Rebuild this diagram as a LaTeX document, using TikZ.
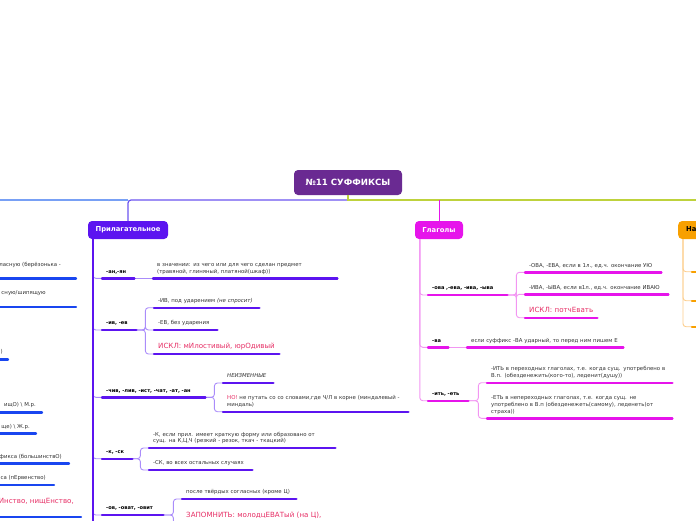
\documentclass[tikz,border=0pt]{standalone}
\usepackage{fontspec}
\setmainfont{DejaVu Sans}
\usepackage{xcolor}
\usetikzlibrary{positioning}
\definecolor{cRoot}{RGB}{106,42,146}
\definecolor{cV}{RGB}{92,20,240}
\definecolor{cVl}{RGB}{170,140,250}
\definecolor{cVt}{RGB}{108,84,240}
\definecolor{cM}{RGB}{230,20,235}
\definecolor{cMl}{RGB}{242,150,242}
\definecolor{cO}{RGB}{248,160,0}
\definecolor{cOl}{RGB}{252,205,140}
\definecolor{cB}{RGB}{25,70,240}
\definecolor{cBl}{RGB}{120,160,245}
\definecolor{cG}{RGB}{190,210,60}
\definecolor{cRed}{RGB}{230,45,100}
\definecolor{cText}{RGB}{51,51,51}

\begin{document}
\begin{tikzpicture}[x=1pt, y=-1pt, font=\fontsize{5.4}{6.7}\selectfont]

    \tikzstyle{title} = [rectangle, rounded corners=4pt, minimum height=18pt, inner xsep=6pt, text=white, font=\fontsize{6.8}{8}\selectfont\bfseries]
    \tikzstyle{txt} = [anchor=south west, align=left, inner xsep=4pt, inner ysep=3.5pt, text=cText, execute at end node={\rule[-1.5pt]{0pt}{1pt}}]
    \tikzstyle{hd} = [txt, text=black, font=\fontsize{5.1}{6.7}\selectfont\bfseries]
    \tikzstyle{rd} = [txt, text=cRed, font=\fontsize{7.1}{8.5}\selectfont, execute at end node={\rule[-2pt]{0pt}{1pt}}]
    \tikzstyle{btxt} = [anchor=base east, inner sep=0pt, text=cText]
    \tikzstyle{uline} = [line width=2.4pt, line cap=round]
    \tikzstyle{conn} = [line width=0.9pt, rounded corners=3pt]

    \useasboundingbox (0,0) rectangle (696,520);
    \clip (0,0) rectangle (696,520);

    % Root and branch boxes
    \node[title, fill=cRoot, minimum width=108pt, minimum height=25pt, font=\fontsize{8.6}{10}\selectfont\bfseries] (root) at (348,182.5) {№11 СУФФИКСЫ};
    \node[title, fill=cV, minimum width=80pt] (adj) at (128,230) {Прилагательное};
    \node[title, fill=cM, minimum width=48pt] (verb) at (439,230) {Глаголы};
    \node[title, fill=cO, text=black, anchor=west, inner xsep=8pt] (adv) at (678,230) {Наречие};

    % Top line
    \coordinate (wend) at (-5,200);
    \coordinate (eend) at (705,200);
    \draw[cBl, line width=1.2pt] (wend) -- (wend -| adj.north);
    \draw[cVt, line width=1.2pt, rounded corners=3pt] (adj.north) |- (root.south |- wend);
    \draw[cG, line width=1.2pt] (root.south) -- (root.south |- eend) -- (eend);
    \draw[cM, line width=1pt] (verb.north) -- (verb.north |- eend);
    \draw[cO, line width=1pt] (adv.north) -- (adv.north |- eend);

    % Left branch (cut off): text end, then underline end
    \foreach \n/\tx/\ty/\ux/\uy/\t in {
        b1/61/266.5/76/278.3/{ласную (берёзонька -},
        b3/3/353.5/8/359.5/{)},
        b4/36/406.8/42/412.3/{ищО) \textbackslash\ М.р.},
        b5/30/428.5/36/433.5/{ще) \textbackslash\ Ж.р.},
        b6/62/458/69/463.3/{фикса (большинствО)},
        b7/46/479.8/54/485/{са (пЕрвенство)}} {
        \node[btxt] (\n) at (\tx,\ty) {\t};
        \draw[uline, cB] (\n.base east -| \ux,0) ++(0,\uy-\ty) -- ++(-120,0);
    }
    \node[btxt, anchor=base west] (b2) at (1.3,294.5) {сную/шипящую};
    \draw[uline, cB] (b2.base west) ++(74.7,12.2) -- ++(-120,0);
    \node[btxt, text=cRed, font=\fontsize{7.1}{8.5}\selectfont] (b8) at (74,503.3) {шИнство, нищЕнство,};
    \draw[uline, cB] (b8.base east) ++(7,13.4) -- ++(-120,0);

    % Прилагательное
    \node[hd, text width=24pt] (an) at (102,278.3) {-ан,-ян};
    \node[txt, text width=176pt] (anA) at (153,278.3) {в значении: из чего или для чего сделан предмет\\(травяной, глиняный, платяной(шкаф))};
    \node[hd, text width=26pt] (iv) at (102,330) {-ив, -ев};
    \node[txt, text width=97pt] (ivA) at (154,307.7) {-ИВ, под ударением \textit{(не спросит)}};
    \node[txt, text width=55pt] (ivB) at (154,330) {-ЕВ, без ударения};
    \node[rd, text width=117pt] (ivC) at (154,354) {ИСКЛ: мИлостивый, юрОдивый};
    \node[hd, text width=95pt] (chiv) at (102,397.3) {-чив, -лив, -ист, -чат, -ат, -ан};
    \node[txt, text width=42pt] (chivA) at (223,383) {\textit{НЕИЗМЕННЫЕ}};
    \node[txt, text width=177pt] (chivB) at (223,411.7) {\textcolor{cRed}{НО!} не путать со со словами,где Ч/Л в корне (миндалевый -\\миндаль)};
    \node[hd, text width=22pt] (sk) at (102,458.7) {-к, -ск};
    \node[txt, text width=178pt] (skA) at (149,448) {-К, если прил. имеет краткую форму или образовано от\\сущ. на К,Ц,Ч (резкий - резок, ткач - ткацкий)};
    \node[txt, text width=95pt] (skB) at (149,470) {-СК, во всех остальных случаях};
    \node[hd, text width=53pt] (ov) at (102,515) {-ов, -оват, -овит};
    \node[txt, text width=106pt] (ovA) at (182,499) {после твёрдых согласных (кроме Ц)};
    \node[rd, text width=180pt] (ovB) at (182,523.5) {ЗАПОМНИТЬ: молодцЕВАТый (на Ц),};

    \foreach \n in {an,iv,chiv,sk,ov}
        \draw[conn, cVl] ([xshift=5pt]adj.south west) |- (\n.south west);
    \draw[cV, line width=1.8pt] ([xshift=5pt]adj.south west) -- ++(0,300);
    \draw[conn, cVl] (an.south east) -- (anA.south west);
    \foreach \n in {ivA,ivB,ivC}
        \draw[conn, cVl] (iv.south east) -- ++(9,0) |- (\n.south west);
    \foreach \n in {chivA,chivB}
        \draw[conn, cVl] (chiv.south east) -- ++(9,0) |- (\n.south west);
    \foreach \n in {skA,skB}
        \draw[conn, cVl] (sk.south east) -- ++(8,0) |- (\n.south west);
    \foreach \n in {ovA,ovB}
        \draw[conn, cVl] (ov.south east) -- ++(10,0) |- (\n.south west);
    \foreach \n in {an,anA,iv,ivA,ivB,ivC,chiv,chivA,chivB,sk,skA,skB,ov,ovA,ovB}
        \draw[uline, cV] (\n.south west) -- (\n.south east);

    % Глаголы
    \node[hd, text width=71pt] (ova) at (428,295) {-ова ,-ева, -ива, -ыва};
    \node[txt, text width=128pt] (ovaA) at (525,272.3) {-ОВА, -ЕВА, если в 1л., ед.ч. окончание УЮ};
    \node[txt, text width=135pt] (ovaB) at (525,294.3) {-ИВА, -ЫВА, если в1л., ед.ч. окончание ИВАЮ};
    \node[rd, text width=64pt] (ovaC) at (525,317.7) {\mbox{ИСКЛ: потчЕвать}};
    \node[hd, text width=12pt] (va) at (428,347.3) {-ва};
    \node[txt, text width=148pt] (vaA) at (467,347.3) {если суффикс -ВА ударный, то перед ним пишем Е};
    \node[hd, text width=32pt] (it) at (428,400.7) {-ить, -еть};
    \node[txt, text width=177pt] (itA) at (487,382.7) {-ИТЬ в переходных глаголах, т.е. когда сущ. употреблено в\\В.п. (обезденежить(кого-то), леденит(душу))};
    \node[txt, text width=177pt] (itB) at (487,418.3) {-ЕТЬ в непереходных глаголах, т.е. когда сущ. не\\употреблено в В.п (обезденежеть(самому), леденеть(от\\страха))};

    \foreach \n in {ova,va,it}
        \draw[conn, cMl] ([xshift=5pt]verb.south west) |- (\n.south west);
    \foreach \n in {ovaA,ovaB,ovaC}
        \draw[conn, cMl] (ova.south east) -- ++(9,0) |- (\n.south west);
    \draw[conn, cMl] (va.south east) -- (vaA.south west);
    \foreach \n in {itA,itB}
        \draw[conn, cMl] (it.south east) -- ++(10,0) |- (\n.south west);
    \foreach \n in {ova,ovaA,ovaB,ovaC,va,vaA,it,itA,itB}
        \draw[uline, cM] (\n.south west) -- (\n.south east);

    % Наречие (cut off)
    \coordinate (o1) at (692,271.7);
    \coordinate (o2) at (692,300.7);
    \coordinate (o3) at (692,326.7);
    \foreach \n in {o1,o2,o3} {
        \draw[conn, cOl] ([xshift=5pt]adv.south west) |- (\n);
        \draw[uline, cO] (\n) -- ++(20,0);
    }
\end{tikzpicture}
\end{document}
